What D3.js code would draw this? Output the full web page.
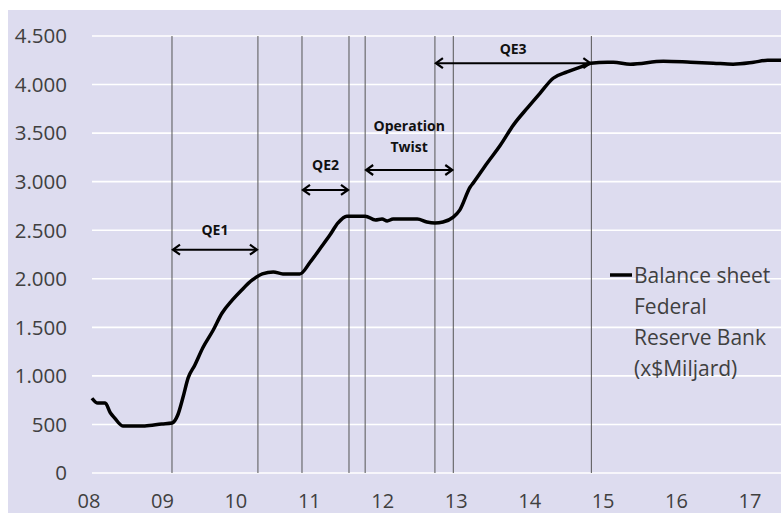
<!DOCTYPE html>
<html>
<head>
    <meta charset="UTF-8">
    <script src="https://cdn.jsdelivr.net/npm/d3@7/dist/d3.min.js"></script>
    <style>
        body { margin: 0; background: #fff; }
        text { font-family: "Open Sans", "Noto Sans", sans-serif; }
    </style>
</head>
<body>
<svg id="chart" width="781" height="513"></svg>
<script>

// balance sheet, decimal year -> $ miljard
const years  = [2008.04, 2008.12, 2008.22, 2008.29, 2008.35, 2008.46, 2008.76, 2008.99, 2009.13, 2009.21,
                2009.28, 2009.35, 2009.44, 2009.55, 2009.69, 2009.81, 2009.95, 2010.08, 2010.22, 2010.36,
                2010.51, 2010.64, 2010.87, 2011.01, 2011.15, 2011.28, 2011.39, 2011.51, 2011.76, 2011.90,
                2011.99, 2012.06, 2012.14, 2012.33, 2012.47, 2012.60, 2012.71, 2012.82, 2012.96, 2013.05,
                2013.19, 2013.23, 2013.42, 2013.60, 2013.78, 2013.97, 2014.14, 2014.32, 2014.51, 2014.69,
                2014.83, 2015.06, 2015.14, 2015.37, 2015.82, 2016.19, 2016.50, 2016.77, 2017.05, 2017.24, 2017.43];
const values = [770, 720, 720, 620, 565, 485, 485, 505, 515, 600,
                780, 980, 1110, 1290, 1470, 1645, 1780, 1885, 1985, 2050,
                2070, 2050, 2050, 2170, 2315, 2450, 2575, 2645, 2645, 2605,
                2615, 2595, 2615, 2615, 2615, 2585, 2575, 2585, 2635, 2710,
                2945, 2985, 3190, 3375, 3585, 3760, 3910, 4065, 4130, 4180,
                4220, 4230, 4230, 4210, 4240, 4230, 4220, 4210, 4230, 4250, 4250];

const x_ticks  = [2008, 2009, 2010, 2011, 2012, 2013, 2014, 2015, 2016, 2017];
const x_labels = ["08", "09", "10", "11", "12", "13", "14", "15", "16", "17"];
const y_ticks  = [0, 500, 1000, 1500, 2000, 2500, 3000, 3500, 4000, 4500];

// verticale lijnen (begin/eind programma's)
const event_years = [2009.13, 2010.30, 2010.90, 2011.54, 2011.76, 2012.71, 2012.96, 2014.84];

// pijlen: start, eind, hoogte (waarde), label
const arrow_names = ["QE1", "QE2", "Operation Twist", "QE3"];
const arrow_from  = [2009.13, 2010.90, 2011.76, 2012.71];
const arrow_to    = [2010.30, 2011.54, 2012.96, 2014.84];
const arrow_level = [2300, 2915, 3120, 4220];
const label_lines = [["QE1"], ["QE2"], ["Operation", "Twist"], ["QE3"]];
const label_level = [2500, 3170, 3570, 4370];

const legend_lines = ["Balance sheet", "Federal", "Reserve Bank", "(x$Miljard)"];

const W = 781, H = 513;
const svg = d3.select("#chart");

const x = d3.scaleLinear([2008, 2017], [89, 750]);
const y = d3.scaleLinear([0, 4500], [473, 36]);

// achtergrond
svg.append("rect")
    .attr("x", 8).attr("y", 10)
    .attr("width", W - 8).attr("height", H - 10)
    .attr("fill", "#dddcef");

// horizontale rasterlijnen
svg.append("g").selectAll("line")
    .data(y_ticks).join("line")
    .attr("x1", 92).attr("x2", W)
    .attr("y1", d => y(d)).attr("y2", d => y(d))
    .attr("stroke", "#fff").attr("stroke-width", 1.6);

// y labels
svg.append("g").selectAll("text")
    .data(y_ticks).join("text")
    .attr("x", 67).attr("y", d => y(d))
    .attr("dy", "0.36em")
    .attr("text-anchor", "end")
    .attr("font-size", 20.5)
    .attr("fill", "#404040")
    .text(d => d === 0 ? "0" : d3.format(",")(d).replace(",", "."));

// x labels
svg.append("g").selectAll("text")
    .data(x_ticks).join("text")
    .attr("x", d => x(d)).attr("y", 508)
    .attr("text-anchor", "middle")
    .attr("font-size", 20)
    .attr("fill", "#404040")
    .text((d, i) => x_labels[i]);

// verticale lijnen
svg.append("g").selectAll("line")
    .data(event_years).join("line")
    .attr("x1", d => x(d)).attr("x2", d => x(d))
    .attr("y1", y(4500)).attr("y2", y(0))
    .attr("stroke", "#555").attr("stroke-width", 1);

// de lijn zelf
const line = d3.line()
    .x((d, i) => x(years[i]))
    .y(d => y(d))
    .curve(d3.curveMonotoneX);

svg.append("path")
    .datum(values)
    .attr("d", line)
    .attr("fill", "none")
    .attr("stroke", "#000")
    .attr("stroke-width", 3.5)
    .attr("stroke-linejoin", "round");

// pijlen met labels
const ah = 8, aw = 5;   // pijlpunt lengte / halve breedte
arrow_names.forEach((name, i) => {
    const x1 = x(arrow_from[i]), x2 = x(arrow_to[i]), ya = y(arrow_level[i]);
    const g = svg.append("g");
    g.append("line")
        .attr("x1", x1 + 1).attr("x2", x2 - 1)
        .attr("y1", ya).attr("y2", ya)
        .attr("stroke", "#000").attr("stroke-width", 2);
    g.append("path")
        .attr("d", `M${x1 + ah},${ya - aw} L${x1 + 1},${ya} L${x1 + ah},${ya + aw}` +
                   `M${x2 - ah},${ya - aw} L${x2 - 1},${ya} L${x2 - ah},${ya + aw}`)
        .attr("fill", "none").attr("stroke", "#000").attr("stroke-width", 2.2);
    const lines = label_lines[i];
    lines.forEach((t, j) => {
        g.append("text")
            .attr("x", (x1 + x2) / 2)
            .attr("y", y(label_level[i]) + j * 21)
            .attr("dy", "0.36em")
            .attr("text-anchor", "middle")
            .attr("font-size", 14)
            .attr("font-weight", "bold")
            .attr("fill", "#111")
            .text(t);
    });
});

// legenda
svg.append("line")
    .attr("x1", 610).attr("x2", 632)
    .attr("y1", 275).attr("y2", 275)
    .attr("stroke", "#000").attr("stroke-width", 3.5);

svg.append("g").selectAll("text")
    .data(legend_lines).join("text")
    .attr("x", 634)
    .attr("y", (d, i) => 275 + i * 31)
    .attr("dy", "0.36em")
    .attr("font-size", 21)
    .attr("fill", "#404040")
    .text(d => d);

</script>
</body>
</html>
